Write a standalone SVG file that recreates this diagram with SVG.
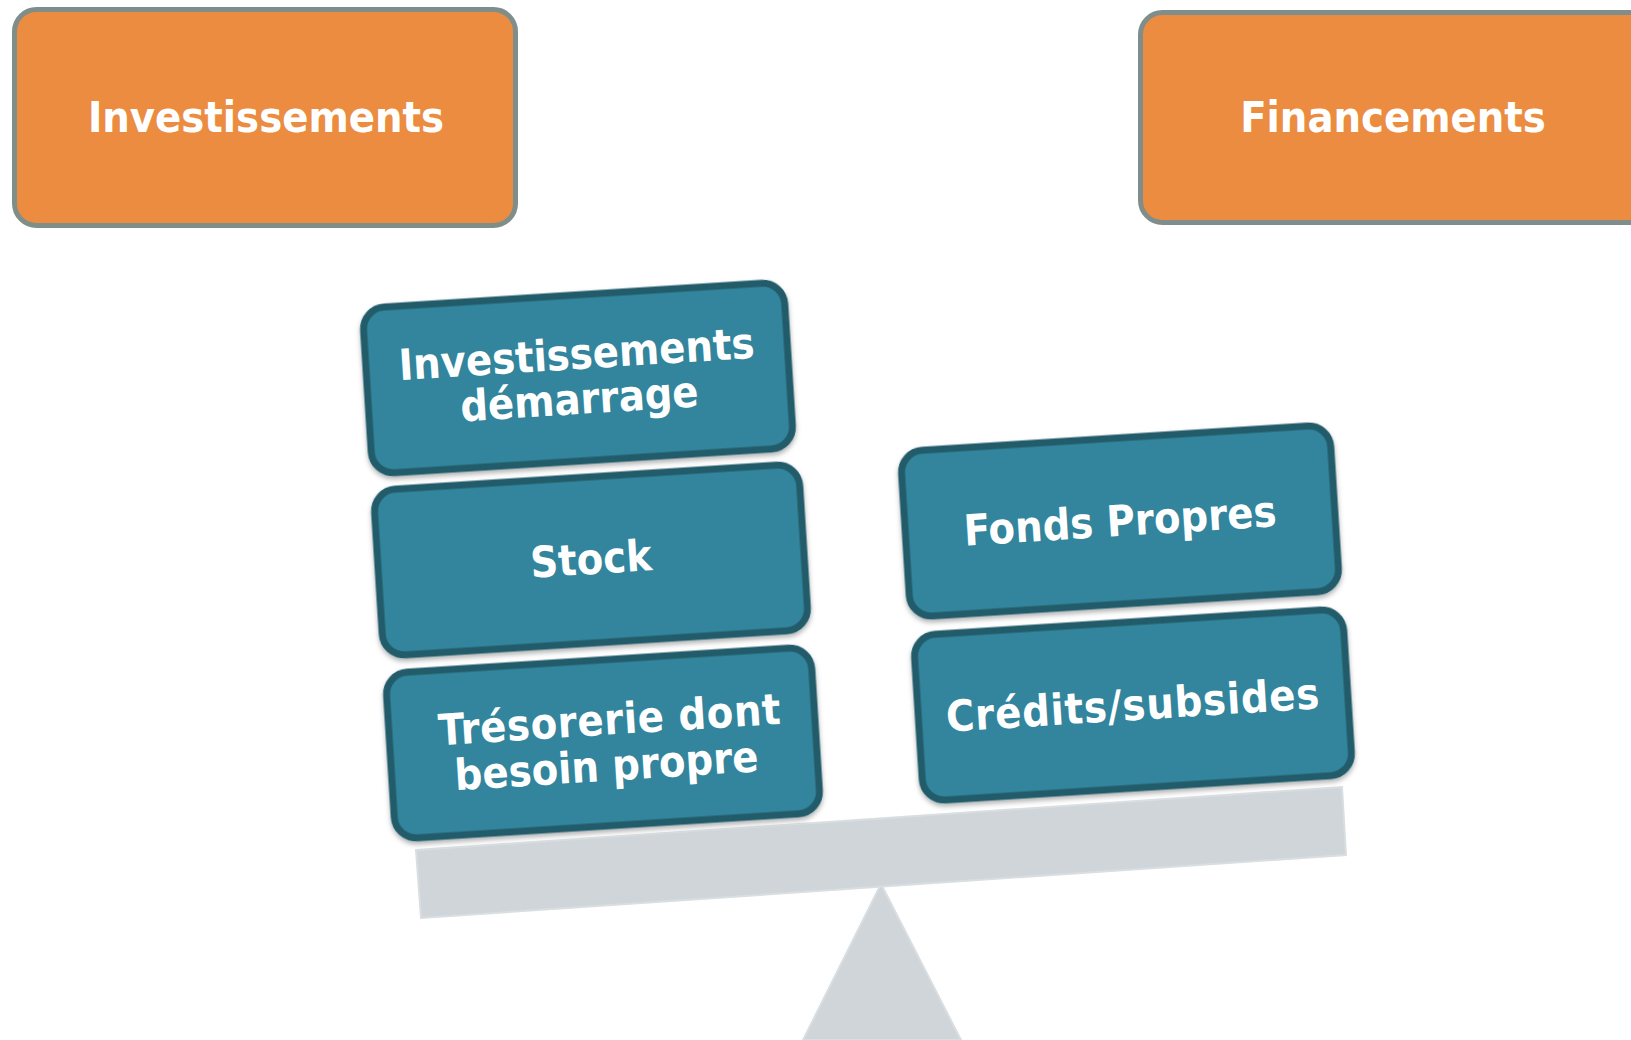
<svg xmlns="http://www.w3.org/2000/svg" width="1631" height="1040" viewBox="0 0 1631 1040">
  <defs>
    <filter id="sh" x="-10%" y="-10%" width="120%" height="130%">
      <feDropShadow dx="0" dy="3" stdDeviation="2.5" flood-color="#000" flood-opacity="0.3"/>
    </filter>
  </defs>
  <style>
    .hdr { fill: #EB8C41; stroke: #7F8E8A; stroke-width: 5; }
    .blk { fill: #31859C; stroke: #245B6B; stroke-width: 7; }
    .lbl { fill: #FFFFFF; font-family: "DejaVu Sans", "Liberation Sans", sans-serif; font-weight: bold; font-stretch: condensed; font-size: 43px; text-anchor: middle; }
    .scale { fill: #CFD5D9; stroke: #D9DEE1; stroke-width: 2; }
  </style>
  <rect width="1631" height="1040" fill="#FFFFFF"/>

  <g id="header-investissements">
    <rect class="hdr" x="14.5" y="9.5" width="501" height="216" rx="22"/>
    <text class="lbl" x="266" y="132">Investissements</text>
  </g>
  <g id="header-financements">
    <rect class="hdr" x="1140.5" y="12.5" width="540" height="210" rx="22"/>
    <text class="lbl" x="1393" y="132">Financements</text>
  </g>

  <g id="balance">
    <polygon class="scale" points="881,884 803,1040 961,1040"/>
    <polygon class="scale" points="416,850 1342,787 1346,855 421,918"/>
  </g>

  <g id="connectors"></g>

  <g id="invest-demarrage" transform="translate(578,378) rotate(-3.6)">
    <rect class="blk" x="-211" y="-83" width="422" height="166" rx="22" filter="url(#sh)"/>
    <text class="lbl" y="-9">Investissements</text>
    <text class="lbl" y="36">démarrage</text>
  </g>
  <g id="stock" transform="translate(591,560) rotate(-3.6)">
    <rect class="blk" x="-213" y="-83" width="426" height="166" rx="22" filter="url(#sh)"/>
    <text class="lbl" y="14">Stock</text>
  </g>
  <g id="tresorerie" transform="translate(603,743) rotate(-3.6)">
    <rect class="blk" x="-213" y="-83" width="426" height="166" rx="22" filter="url(#sh)"/>
    <text class="lbl" x="8" y="-8" letter-spacing="0.6">Trésorerie dont</text>
    <text class="lbl" x="2" y="38">besoin propre</text>
  </g>
  <g id="fonds-propres" transform="translate(1120,521) rotate(-3.6)">
    <rect class="blk" x="-215" y="-83" width="430" height="166" rx="22" filter="url(#sh)"/>
    <text class="lbl" y="15">Fonds Propres</text>
  </g>
  <g id="credits-subsides" transform="translate(1133,705) rotate(-3.6)">
    <rect class="blk" x="-215" y="-83" width="430" height="166" rx="22" filter="url(#sh)"/>
    <text class="lbl" y="15" letter-spacing="0.8">Crédits/subsides</text>
  </g>
</svg>
